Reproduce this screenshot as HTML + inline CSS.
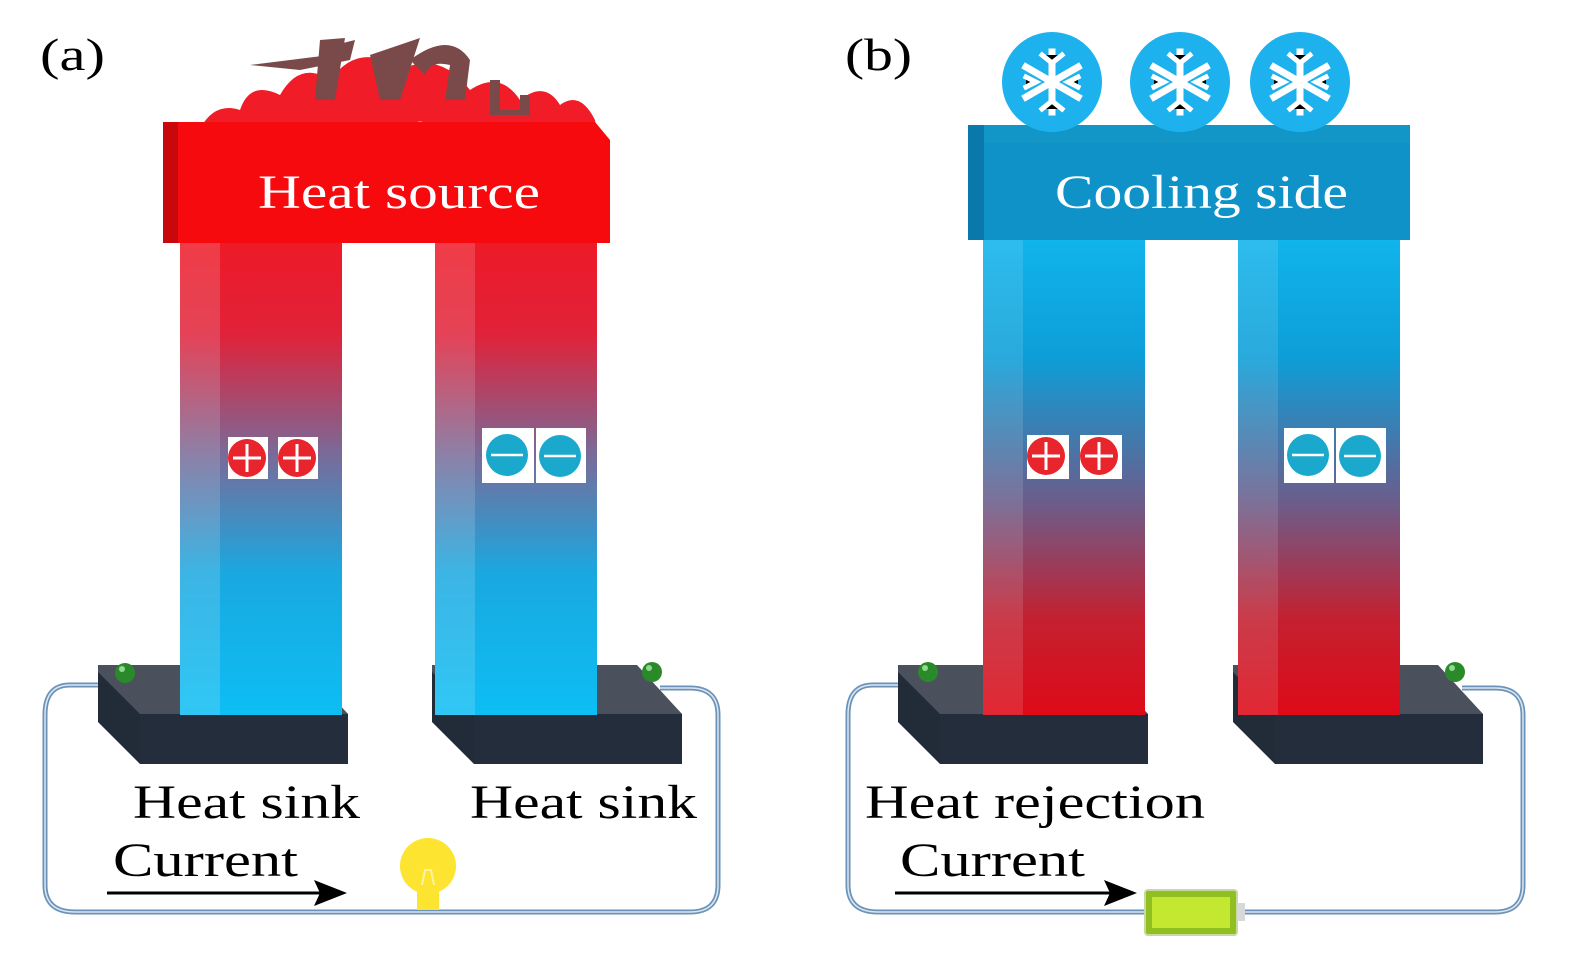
<!DOCTYPE html>
<html><head><meta charset="utf-8"><style>html,body{margin:0;padding:0;background:#fff}svg{display:block}text{font-family:"Liberation Serif",serif}</style></head>
<body>
<svg width="1575" height="955" viewBox="0 0 1575 955" xmlns="http://www.w3.org/2000/svg">
<defs>
<linearGradient id="ga" x1="0" y1="0" x2="0" y2="1">
<stop offset="0" stop-color="#ee1a26"/><stop offset="0.2" stop-color="#e0223a"/><stop offset="0.45" stop-color="#7a6a98"/><stop offset="0.7" stop-color="#1aa8e0"/><stop offset="1" stop-color="#0cbef4"/></linearGradient>
<linearGradient id="gb" x1="0" y1="0" x2="0" y2="1">
<stop offset="0" stop-color="#10b4ec"/><stop offset="0.25" stop-color="#0d9ed8"/><stop offset="0.55" stop-color="#6a5e8c"/><stop offset="0.8" stop-color="#c42030"/><stop offset="1" stop-color="#de0a18"/></linearGradient>
<g id="base">
<polygon points="0,3 200,3 250,52 250,102 42,102 0,60" fill="#222b38"/>
<polygon points="0,3 205,3 250,52 42,52 0,10" fill="#4a505c"/>
<rect x="42" y="52" width="208" height="50" fill="#232d3c"/>
</g>
</defs>

<path d="M118,685 H70 Q45,685 45,715 V885 Q45,912 75,912 H690 Q718,912 718,885 V715 Q718,688 690,688 H660" fill="none" stroke="#6b93ba" stroke-width="5"/>
<path d="M118,685 H70 Q45,685 45,715 V885 Q45,912 75,912 H690 Q718,912 718,885 V715 Q718,688 690,688 H660" fill="none" stroke="#dbe6f0" stroke-width="1.5"/>
<path d="M921,685 H873 Q848,685 848,715 V885 Q848,912 878,912 H1495 Q1523,912 1523,885 V715 Q1523,688 1495,688 H1462" fill="none" stroke="#6b93ba" stroke-width="5"/>
<path d="M921,685 H873 Q848,685 848,715 V885 Q848,912 878,912 H1495 Q1523,912 1523,885 V715 Q1523,688 1495,688 H1462" fill="none" stroke="#dbe6f0" stroke-width="1.5"/>

<use href="#base" x="98" y="662"/>
<use href="#base" x="432" y="662"/>
<rect x="180" y="240" width="162" height="475" fill="url(#ga)"/>
<rect x="180" y="240" width="40" height="475" fill="#fff" opacity="0.15"/>
<rect x="435" y="240" width="162" height="475" fill="url(#ga)"/>
<rect x="435" y="240" width="40" height="475" fill="#fff" opacity="0.15"/>
<g fill="#f01c28">
<path d="M195,140 Q210,100 240,110 Q250,80 280,95 Q300,60 330,80 Q360,40 400,70 Q440,50 470,90 Q500,70 520,100 Q545,80 560,105 Q580,90 595,120 L600,150 L195,150Z"/>
</g>
<g fill="#7a4a4a">
<path d="M250,65 L330,55 L335,45 L355,40 L350,60 L300,70 Z"/>
<path d="M320,40 L345,38 L335,100 L315,100 Z"/>
<path d="M370,55 L420,38 L400,100 L380,100 Z"/>
<path d="M410,60 Q450,30 470,60 L465,100 L445,100 L450,65 Q430,60 425,75 Z"/>
<path d="M490,80 L500,80 L500,110 L520,110 L520,95 L530,95 L530,115 L490,115Z"/>
</g>
<g fill="#f8a0a8" opacity="0.7">
<circle cx="230" cy="140" r="5"/><circle cx="280" cy="130" r="4"/><circle cx="360" cy="140" r="5"/><circle cx="420" cy="125" r="4"/><circle cx="470" cy="140" r="5"/><circle cx="540" cy="130" r="4"/><circle cx="580" cy="140" r="3"/>
</g>
<polygon points="163,122 595,122 610,140 610,243 163,243" fill="#f60a0e"/>
<rect x="163" y="122" width="15" height="121" fill="#c8080c"/>
<text x="258" y="208" font-size="48" fill="#fff" textLength="282" lengthAdjust="spacingAndGlyphs">Heat source</text>

<g>
<rect x="228" y="437" width="40" height="42" fill="#fff"/><rect x="278" y="437" width="40" height="42" fill="#fff"/>
<circle cx="247" cy="458" r="19" fill="#e8242c"/><circle cx="297" cy="458" r="19" fill="#e8242c"/>
<path d="M233,458 H261 M247,444 V472 M283,458 H311 M297,444 V472" stroke="#fff" stroke-width="3"/>
<rect x="482" y="428" width="52" height="55" fill="#fff"/><rect x="536" y="428" width="50" height="55" fill="#fff"/>
<circle cx="507" cy="455" r="21" fill="#1aa8cc"/><circle cx="560" cy="456" r="21" fill="#1aa8cc"/>
<path d="M491,455 H523 M544,456 H576" stroke="#fff" stroke-width="2.5"/>
</g>

<circle cx="125" cy="673" r="10" fill="#2a8a2a"/><circle cx="122" cy="669" r="3" fill="#8fd88f"/>
<circle cx="652" cy="672" r="10" fill="#2a8a2a"/><circle cx="649" cy="668" r="3" fill="#8fd88f"/>

<text x="40" y="70" font-size="46" textLength="65" lengthAdjust="spacingAndGlyphs">(a)</text>
<text x="133" y="818" font-size="48" textLength="227" lengthAdjust="spacingAndGlyphs">Heat sink</text>
<text x="470" y="818" font-size="48" textLength="227" lengthAdjust="spacingAndGlyphs">Heat sink</text>
<text x="113" y="876" font-size="48" textLength="185" lengthAdjust="spacingAndGlyphs">Current</text>
<line x1="107" y1="893" x2="320" y2="893" stroke="#000" stroke-width="3"/>
<polygon points="347,893 314,880 320,893 314,906" fill="#000"/>
<ellipse cx="428" cy="866" rx="28" ry="28" fill="#fde430"/>
<rect x="417" y="885" width="22" height="25" fill="#fde430"/>
<path d="M422,885 L425,870 L431,870 L434,885" stroke="#fff3a0" stroke-width="2" fill="none"/>

<use href="#base" x="898" y="662"/>
<use href="#base" x="1233" y="662"/>
<rect x="983" y="238" width="162" height="477" fill="url(#gb)"/>
<rect x="983" y="238" width="40" height="477" fill="#fff" opacity="0.12"/>
<rect x="1238" y="238" width="162" height="477" fill="url(#gb)"/>
<rect x="1238" y="238" width="40" height="477" fill="#fff" opacity="0.12"/>
<polygon points="968,125 1395,125 1410,142 1410,240 968,240" fill="#0e92c8"/>
<rect x="968" y="125" width="16" height="115" fill="#0a78aa"/>
<rect x="984" y="125" width="426" height="18" fill="#1296c8"/>
<text x="1055" y="208" font-size="48" fill="#fff" textLength="293" lengthAdjust="spacingAndGlyphs">Cooling side</text>
<g fill="#1db2ee">
<ellipse cx="1052" cy="82" rx="50" ry="50"/><ellipse cx="1180" cy="82" rx="50" ry="50"/><ellipse cx="1300" cy="82" rx="50" ry="50"/>
</g>
<g stroke="#fff" stroke-width="7" stroke-linecap="square">
<g id="sf"><path d="M1052,52 V112 M1026,67 L1078,97 M1026,97 L1078,67"/><path d="M1042,55 L1052,63 L1062,55 M1042,109 L1052,101 L1062,109 M1026,77 L1036,82 L1026,87 M1078,77 L1068,82 L1078,87" stroke-width="5"/></g>
<use href="#sf" x="128"/><use href="#sf" x="248"/>
</g>

<g>
<rect x="1027" y="435" width="42" height="44" fill="#fff"/><rect x="1080" y="435" width="42" height="44" fill="#fff"/>
<circle cx="1046" cy="456" r="19" fill="#e8242c"/><circle cx="1099" cy="456" r="19" fill="#e8242c"/>
<path d="M1032,456 H1060 M1046,442 V470 M1085,456 H1113 M1099,442 V470" stroke="#fff" stroke-width="3"/>
<rect x="1284" y="428" width="50" height="55" fill="#fff"/><rect x="1336" y="428" width="50" height="55" fill="#fff"/>
<circle cx="1308" cy="455" r="21" fill="#1aa8cc"/><circle cx="1360" cy="456" r="21" fill="#1aa8cc"/>
<path d="M1292,455 H1324 M1344,456 H1376" stroke="#fff" stroke-width="2.5"/>
</g>
<circle cx="928" cy="672" r="10" fill="#2a8a2a"/><circle cx="925" cy="668" r="3" fill="#8fd88f"/>
<circle cx="1455" cy="672" r="10" fill="#2a8a2a"/><circle cx="1452" cy="668" r="3" fill="#8fd88f"/>

<text x="845" y="70" font-size="46" textLength="67" lengthAdjust="spacingAndGlyphs">(b)</text>
<text x="865" y="818" font-size="48" textLength="340" lengthAdjust="spacingAndGlyphs">Heat rejection</text>
<text x="900" y="876" font-size="48" textLength="185" lengthAdjust="spacingAndGlyphs">Current</text>
<line x1="895" y1="893" x2="1110" y2="893" stroke="#000" stroke-width="3"/>
<polygon points="1137,893 1104,880 1110,893 1104,906" fill="#000"/>
<rect x="1145" y="890" width="92" height="45" rx="3" fill="#8fbf20" stroke="#c8d8a0" stroke-width="2"/>
<rect x="1152" y="897" width="78" height="31" fill="#c4e830"/>
<rect x="1237" y="903" width="8" height="18" fill="#d8d8d8"/>
</svg>
</body></html>
